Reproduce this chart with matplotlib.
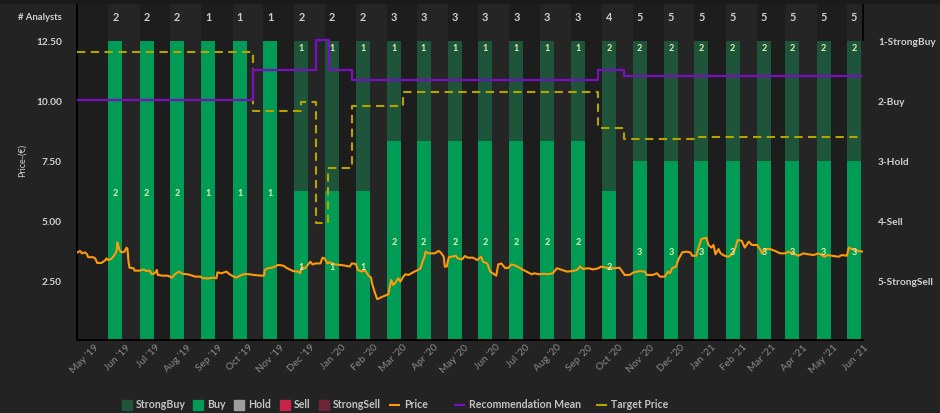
import numpy as np
import matplotlib.pyplot as plt
import matplotlib.transforms as mtransforms
from matplotlib.patches import Rectangle
from matplotlib.lines import Line2D

plt.rcParams['font.family'] = ['Lato', 'DejaVu Sans']

# ---- data ----
start = np.datetime64('2019-04-12')
n_days = 778  # view ends 2021-05-29

bar_months = ['2019-05', '2019-06', '2019-07', '2019-08', '2019-09', '2019-10', '2019-11',
              '2019-12', '2020-01', '2020-02', '2020-03', '2020-04', '2020-05', '2020-06',
              '2020-07', '2020-08', '2020-09', '2020-10', '2020-11', '2020-12', '2021-01',
              '2021-02', '2021-03', '2021-04', '2021-05']
analysts = [2, 2, 2, 1, 1, 1, 2, 2, 2, 3, 3, 3, 3, 3, 3, 3, 4, 5, 5, 5, 5, 5, 5, 5, 5]
strong_buy = [0, 0, 0, 0, 0, 0, 1, 1, 1, 1, 1, 1, 1, 1, 1, 1, 2, 2, 2, 2, 2, 2, 2, 2, 2]
buy = [2, 2, 2, 1, 1, 1, 1, 1, 1, 2, 2, 2, 2, 2, 2, 2, 2, 3, 3, 3, 3, 3, 3, 3, 3]

tick_months = bar_months + ['2021-06']
tick_labels = ["May '19", "Jun '19", "Jul '19", "Aug '19", "Sep '19", "Oct '19", "Nov '19",
               "Dec '19", "Jan '20", "Feb '20", "Mar '20", "Apr '20", "May '20", "Jun '20",
               "Jul '20", "Aug '20", "Sep '20", "Oct '20", "Nov '20", "Dec '20", "Jan '21",
               "Feb '21", "Mar '21", "Apr '21", "May '21", "Jun '21"]

# price, days since 2019-04-12
price_days = [0, 3, 5, 8, 10, 11, 16, 18, 20, 24,
              28, 29, 31, 34, 37, 39, 40, 42, 44, 47,
              49, 50, 51, 52, 56, 57, 62, 66, 69, 72,
              74, 77, 79, 80, 85, 90, 94, 97, 101, 104,
              109, 112, 117, 122, 125, 130, 135, 138, 139, 143,
              148, 151, 155, 158, 161, 166, 170, 175, 183, 185,
              186, 189, 193, 196, 199, 204, 208, 214, 219, 221,
              222, 226, 227, 231, 233, 236, 241, 243, 245, 248,
              250, 255, 260, 265, 270, 272, 276, 278, 282, 285,
              287, 288, 291, 292, 294, 297, 298, 302, 305, 308,
              310, 311, 313, 316, 318, 320, 323, 325, 328, 331,
              335, 338, 340, 342, 344, 345, 348, 354, 358, 360,
              363, 364, 366, 368, 371, 375, 377, 381, 384, 387,
              392, 396, 400, 402, 406, 409, 413, 415, 417, 420,
              424, 427, 430, 434, 440, 445, 450, 453, 457, 462,
              466, 471, 475, 480, 485, 490, 495, 498, 501, 506,
              511, 516, 519, 524, 531, 537, 541, 542, 547, 551,
              557, 562, 564, 570, 574, 577, 582, 585, 587, 589,
              593, 595, 599, 603, 607, 609, 613, 615, 618, 623,
              625, 628, 630, 632, 635, 637, 641, 645, 648, 651,
              654, 658, 661, 665, 668, 673, 676, 678, 681, 686,
              691, 696, 701, 704, 709, 714, 719, 724, 729, 734,
              740, 743, 747, 754, 757, 762, 764, 767, 770, 773,
              778]
price_values = [3.64, 3.71, 3.61, 3.65, 3.57, 3.45, 3.45, 3.40, 3.21, 3.21,
                3.32, 3.40, 3.33, 3.38, 3.54, 3.68, 4.07, 3.75, 3.65, 3.68,
                3.85, 3.79, 3.26, 3.01, 2.99, 2.89, 2.89, 2.94, 2.87, 2.89,
                2.74, 2.78, 2.92, 2.71, 2.68, 2.68, 2.60, 2.74, 2.85, 2.76,
                2.74, 2.71, 2.64, 2.64, 2.57, 2.57, 2.60, 2.57, 2.82, 2.78,
                2.85, 2.74, 2.64, 2.60, 2.68, 2.75, 2.74, 2.71, 2.68, 2.68,
                2.92, 2.99, 3.01, 3.06, 3.13, 3.10, 2.99, 2.87, 2.85, 2.78,
                3.01, 2.99, 3.06, 3.26, 3.15, 3.19, 3.19, 3.43, 3.40, 3.19,
                3.24, 3.15, 3.13, 3.10, 3.06, 3.19, 3.17, 2.92, 2.85, 2.92,
                2.78, 2.71, 2.60, 2.36, 2.08, 1.71, 1.71, 1.80, 1.85, 1.90,
                2.29, 2.50, 2.29, 2.43, 2.57, 2.43, 2.64, 2.74, 2.71, 2.78,
                2.87, 2.92, 2.99, 3.26, 3.47, 3.68, 3.61, 3.61, 3.71, 3.65,
                3.47, 3.06, 3.06, 3.45, 3.47, 3.51, 3.40, 3.36, 3.50, 3.43,
                3.43, 3.33, 3.47, 3.26, 3.19, 2.85, 2.74, 2.68, 3.15, 3.19,
                2.99, 3.01, 3.15, 3.10, 2.96, 2.85, 2.74, 2.78, 2.74, 2.76,
                2.74, 2.78, 2.99, 2.92, 2.85, 2.87, 2.92, 3.06, 2.96, 2.99,
                2.94, 2.99, 3.06, 3.01, 2.99, 3.01, 2.78, 2.71, 2.71, 2.82,
                2.87, 2.85, 2.71, 2.71, 2.78, 2.64, 2.64, 2.85, 2.78, 2.99,
                3.06, 3.33, 3.65, 3.68, 3.65, 3.51, 3.51, 3.82, 4.21, 4.26,
                3.96, 3.85, 3.96, 3.57, 3.79, 3.61, 3.51, 3.47, 3.57, 3.75,
                4.17, 4.13, 3.85, 4.10, 3.96, 3.96, 3.79, 3.61, 3.79, 3.79,
                3.71, 3.61, 3.61, 3.68, 3.61, 3.51, 3.61, 3.57, 3.54, 3.61,
                3.47, 3.54, 3.51, 3.47, 3.54, 3.51, 3.85, 3.79, 3.75, 3.71,
                3.68]

target_days = [0, 174, 222, 237, 248, 272, 323, 516, 541, 616, 776]
target_values = [12.0, 9.55, 9.9, 4.875, 7.18, 9.75, 10.35, 8.82, 8.36, 8.47, 8.47]

rec_days = [0, 174, 237, 249, 272, 516, 541, 776]
rec_values = [2.0, 1.5, 1.0, 1.5, 1.667, 1.5, 1.6, 1.6]
rec_labels = ['1-StrongBuy', '2-Buy', '3-Hold', '4-Sell', '5-StrongSell']

# ---- styling ----
W, H = 940, 413
bg = '#232323'
band_dark = '#1d1d1d'
band_light = '#252525'
sb_color = '#1e553a'
buy_color = '#009b55'
price_color = '#ff9a0a'
rec_color = '#7a0fc2'
target_color = '#b5a400'
txt = '#cfcfcf'


def day(s):
    return int((np.datetime64(s) - start).astype(int))


def fx(px):
    return px / W


def fy(py):
    return 1 - py / H


bar_days = np.array([day(m + '-20') for m in bar_months])
tick_days = [day(m + '-01') for m in tick_months]
bw = 13.9

fig = plt.figure(figsize=(9.4, 4.13), dpi=100)
fig.patch.set_facecolor(bg)
fig.add_artist(Rectangle((0, fy(4)), 1, 4 / H, transform=fig.transFigure,
                         color='#1a1a1a', lw=0))

ax = fig.add_axes([fx(77), fy(340), fx(863) - fx(77), fy(4) - fy(340)])
ax.set_facecolor(band_dark)
ax.set_xlim(0, n_days)
ax.set_ylim(0, 14)

# alternating bands starting at each bar
lefts = list(bar_days - bw / 2) + [n_days]
for i in range(len(bar_days)):
    if i % 2 == 0:
        ax.axvspan(lefts[i], lefts[i + 1], color=band_light, lw=0, zorder=0)

full = 12.45
a = np.array(analysts, dtype=float)
buy_h = np.array(buy) / a * full
sb_h = np.array(strong_buy) / a * full
ax.bar(bar_days, buy_h, width=bw, color=buy_color, lw=0, zorder=2)
ax.bar(bar_days, sb_h, bottom=buy_h, width=bw, color=sb_color, lw=0, zorder=2)

lab_c = '#e2f0b0'
for d, b, s, bh, n in zip(bar_days, buy, strong_buy, buy_h, analysts):
    ax.text(d, bh / 2 - 0.1, str(b), ha='center', va='center', fontsize=6.5,
            fontweight='bold', color=lab_c, zorder=5)
    if s > 0:
        ax.text(d, full - 0.3, str(s), ha='center', va='center', fontsize=6.5,
                fontweight='bold', color=lab_c, zorder=5)
    ax.text(d, 13.45, str(n), ha='center', va='center', fontsize=7.8,
            fontweight='bold', color=txt, zorder=5)

ax.plot(price_days, price_values, color=price_color, lw=1.5, zorder=4,
        solid_joinstyle='round')
ax.plot(target_days, target_values, color=target_color, lw=1.5, zorder=4,
        ls=(0, (4, 2.6)), drawstyle='steps-post')

for s in ['top', 'right']:
    ax.spines[s].set_visible(False)
for s in ['left', 'bottom']:
    ax.spines[s].set_color('black')
    ax.spines[s].set_linewidth(1.4)
ax.axvline(n_days, ymin=(340 - 40) / 336, ymax=1, color='black', lw=1.2, clip_on=False)
ax.set_xticks([])
ax.set_yticks([])

# left price labels
off_l = mtransforms.ScaledTranslation(-15 / 100, -2.7 / 100, fig.dpi_scale_trans)
tr_l = mtransforms.blended_transform_factory(ax.transAxes, ax.transData) + off_l
for v in [2.5, 5.0, 7.5, 10.0, 12.5]:
    ax.text(0, v, f'{v:.2f}', transform=tr_l, ha='right', va='center', fontsize=7.3,
            fontweight='bold', color=txt)

# recommendation mean axis
ax2 = ax.twinx()
ax2.set_ylim(6, 0.4)
ax2.set_xlim(0, n_days)
ax2.set_axis_off()
ax2.plot(rec_days, rec_values, color=rec_color, lw=1.6, drawstyle='steps-post')
off_r = mtransforms.ScaledTranslation(15 / 100, -2.7 / 100, fig.dpi_scale_trans)
tr_r = mtransforms.blended_transform_factory(ax2.transAxes, ax2.transData) + off_r
for i, lab in enumerate(rec_labels):
    ax2.text(1, i + 1, lab, transform=tr_r, ha='left', va='center', fontsize=7.3,
             fontweight='bold', color=txt, clip_on=False)

# month labels
tr_x = mtransforms.blended_transform_factory(ax.transData, fig.transFigure)
for d, lab in zip(tick_days, tick_labels):
    ax.text(d - 2, fy(343), lab, transform=tr_x, rotation=45, rotation_mode='anchor',
            ha='right', va='top', fontsize=7.3, color='#8a8a8a', clip_on=False)

fig.text(fx(62), fy(17), '# Analysts', ha='right', va='center', fontsize=6.8,
         fontweight='bold', color=txt)
fig.text(fx(22), fy(160), 'Price-(€)', rotation=90, ha='center', va='center',
         fontsize=6.5, color=txt)

# legend
leg_c = '#c4c4c4'
squares = [(127, 'StrongBuy', sb_color), (198, 'Buy', buy_color), (239, 'Hold', '#9e9e9e'),
           (285, 'Sell', '#c8234a'), (324, 'StrongSell', '#6b2535')]
for x, lab, c in squares:
    fig.add_artist(Line2D([fx(x)], [fy(405)], marker='s', ms=7, color=c, lw=0))
    fig.text(fx(x + 9), fy(405), lab, ha='left', va='center', fontsize=7.6,
             fontweight='bold', color=leg_c)
lines = [(390, 'Price', price_color), (455, 'Recommendation Mean', rec_color),
         (597, 'Target Price', target_color)]
for x, lab, c in lines:
    fig.add_artist(Line2D([fx(x), fx(x + 9)], [fy(405), fy(405)], color=c, lw=1.5))
    fig.text(fx(x + 14), fy(405), lab, ha='left', va='center', fontsize=7.6,
             fontweight='bold', color=leg_c)

fig.savefig('out.png', dpi=100, facecolor=fig.get_facecolor())
